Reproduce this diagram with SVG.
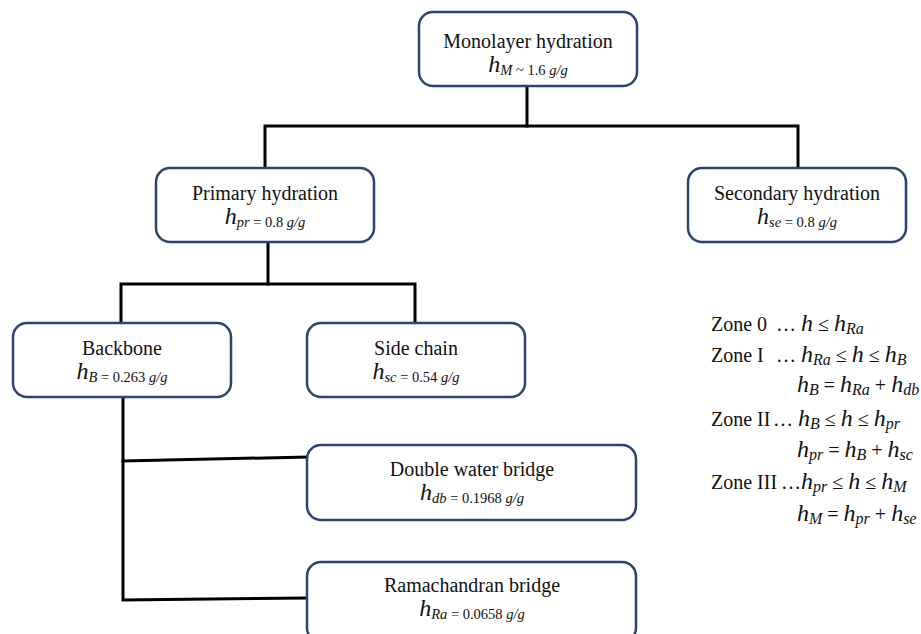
<svg xmlns="http://www.w3.org/2000/svg" width="921" height="634" viewBox="0 0 921 634">
<style>
.box{fill:#fff;stroke:#2e4470;stroke-width:2.5}
.ln{fill:none;stroke:#000;stroke-width:3;stroke-linecap:square}
.t{font-family:"Liberation Serif","Times New Roman",serif;font-size:20px;fill:#111;text-anchor:middle}
.m{font-family:"Liberation Serif","Times New Roman",serif;font-size:20px;fill:#111;text-anchor:middle}
.z{font-family:"Liberation Serif","Times New Roman",serif;font-size:20px;fill:#111}
.i{font-style:italic}
.h{font-style:italic;font-size:24px}
.s{font-size:14.5px}
.zs{font-size:16px;font-style:italic}
</style>
<rect width="921" height="634" fill="#fff"/>
<g id="connectors">
<polyline class="ln" points="527,86 527,126"/>
<polyline class="ln" points="265,168 265,126 798,126 798,168"/>
<polyline class="ln" points="268,242 268,284"/>
<polyline class="ln" points="121,323 121,284 415,284 415,323"/>
<polyline class="ln" points="123,397 123,600 307,598"/>
<polyline class="ln" points="123,461 307,457"/>
</g>
<g id="monolayer">
<rect class="box" x="419" y="12" width="218" height="74" rx="14"/>
<text class="t" x="528" y="48">Monolayer hydration</text>
<text class="m" x="528" y="72"><tspan class="h">h</tspan><tspan class="s" dy="3"><tspan class="i">M</tspan> ~ 1.6 <tspan class="i">g/g</tspan></tspan></text>
</g>
<g id="primary">
<rect class="box" x="156" y="168" width="218" height="74" rx="14"/>
<text class="t" x="265" y="200">Primary hydration</text>
<text class="m" x="265" y="224"><tspan class="h">h</tspan><tspan class="s" dy="3"><tspan class="i">pr</tspan> = 0.8 <tspan class="i">g/g</tspan></tspan></text>
</g>
<g id="secondary">
<rect class="box" x="688" y="168" width="218" height="74" rx="14"/>
<text class="t" x="797" y="200">Secondary hydration</text>
<text class="m" x="797" y="224"><tspan class="h">h</tspan><tspan class="s" dy="3"><tspan class="i">se</tspan> = 0.8 <tspan class="i">g/g</tspan></tspan></text>
</g>
<g id="backbone">
<rect class="box" x="13" y="323" width="218" height="74" rx="14"/>
<text class="t" x="122" y="355">Backbone</text>
<text class="m" x="122" y="379"><tspan class="h">h</tspan><tspan class="s" dy="3"><tspan class="i">B</tspan> = 0.263 <tspan class="i">g/g</tspan></tspan></text>
</g>
<g id="sidechain">
<rect class="box" x="307" y="323" width="218" height="74" rx="14"/>
<text class="t" x="416" y="355">Side chain</text>
<text class="m" x="416" y="379"><tspan class="h">h</tspan><tspan class="s" dy="3"><tspan class="i">sc</tspan> = 0.54 <tspan class="i">g/g</tspan></tspan></text>
</g>
<g id="doublewater">
<rect class="box" x="307" y="445" width="329" height="75" rx="14"/>
<text class="t" x="472" y="476">Double water bridge</text>
<text class="m" x="472" y="500"><tspan class="h">h</tspan><tspan class="s" dy="3"><tspan class="i">db</tspan> = 0.1968 <tspan class="i">g/g</tspan></tspan></text>
</g>
<g id="ramachandran">
<rect class="box" x="307" y="562" width="329" height="80" rx="14"/>
<text class="t" x="472" y="592">Ramachandran bridge</text>
<text class="m" x="472" y="616"><tspan class="h">h</tspan><tspan class="s" dy="3"><tspan class="i">Ra</tspan> = 0.0658 <tspan class="i">g/g</tspan></tspan></text>
</g>
<g id="zones">
<text class="z" x="711" y="331">Zone 0</text>
<text class="z" x="776" y="331">… <tspan class="h">h</tspan> ≤ <tspan class="h">h</tspan><tspan class="zs" dy="3">Ra</tspan></text>
<text class="z" x="711" y="362">Zone I</text>
<text class="z" x="776" y="362">… <tspan class="h">h</tspan><tspan class="zs" dy="3">Ra</tspan><tspan dy="-3"> ≤ </tspan><tspan class="h">h</tspan> ≤ <tspan class="h">h</tspan><tspan class="zs" dy="3">B</tspan></text>
<text class="z" x="797" y="392"><tspan class="h">h</tspan><tspan class="zs" dy="3">B</tspan><tspan dy="-3"> = </tspan><tspan class="h">h</tspan><tspan class="zs" dy="3">Ra</tspan><tspan dy="-3"> + </tspan><tspan class="h">h</tspan><tspan class="zs" dy="3">db</tspan></text>
<text class="z" x="711" y="426">Zone II</text>
<text class="z" x="773" y="426">… <tspan class="h">h</tspan><tspan class="zs" dy="3">B</tspan><tspan dy="-3"> ≤ </tspan><tspan class="h">h</tspan> ≤ <tspan class="h">h</tspan><tspan class="zs" dy="3">pr</tspan></text>
<text class="z" x="797" y="457"><tspan class="h">h</tspan><tspan class="zs" dy="3">pr</tspan><tspan dy="-3"> = </tspan><tspan class="h">h</tspan><tspan class="zs" dy="3">B</tspan><tspan dy="-3"> + </tspan><tspan class="h">h</tspan><tspan class="zs" dy="3">sc</tspan></text>
<text class="z" x="711" y="489">Zone III</text>
<text class="z" x="781" y="489">…<tspan class="h">h</tspan><tspan class="zs" dy="3">pr</tspan><tspan dy="-3"> ≤ </tspan><tspan class="h">h</tspan> ≤ <tspan class="h">h</tspan><tspan class="zs" dy="3">M</tspan></text>
<text class="z" x="797" y="521"><tspan class="h">h</tspan><tspan class="zs" dy="3">M</tspan><tspan dy="-3"> = </tspan><tspan class="h">h</tspan><tspan class="zs" dy="3">pr</tspan><tspan dy="-3"> + </tspan><tspan class="h">h</tspan><tspan class="zs" dy="3">se</tspan></text>
</g>
</svg>
